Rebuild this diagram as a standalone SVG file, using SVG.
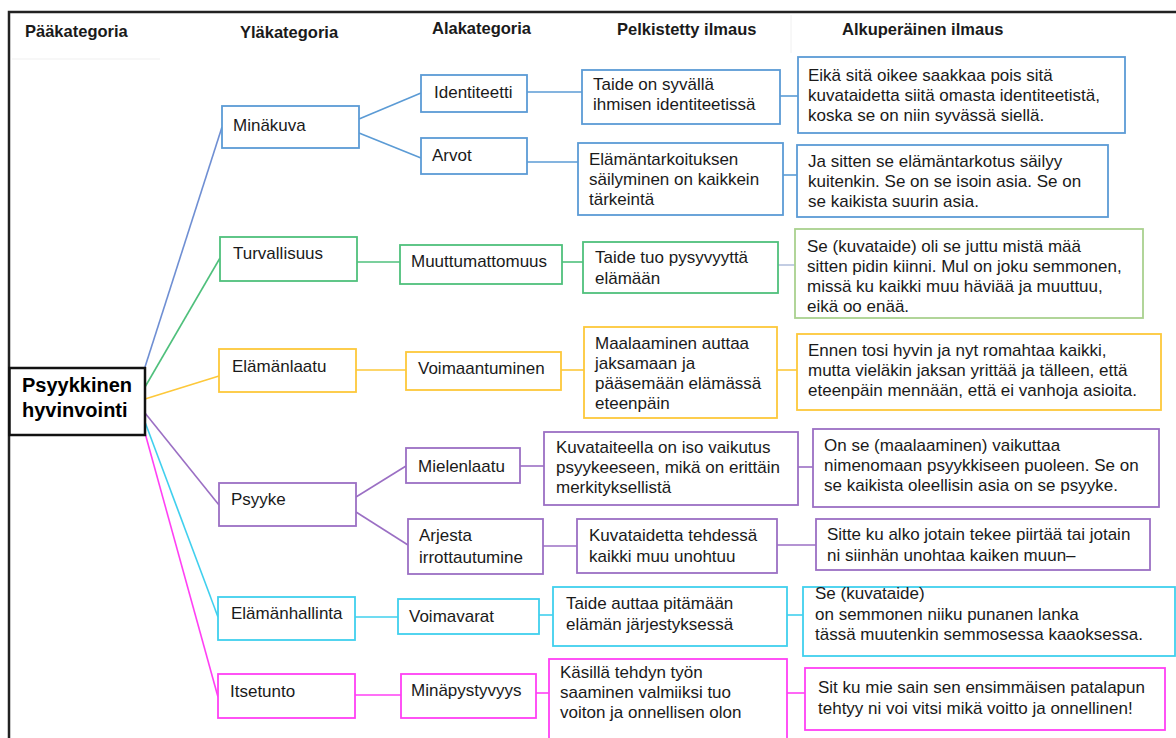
<svg xmlns="http://www.w3.org/2000/svg" width="1176" height="738" viewBox="0 0 1176 738">
  <style>
    text { font-family: "Liberation Sans", Arial, sans-serif; font-size: 17px; fill: #1a1a1a; }
    .head { font-weight: bold; font-size: 16.5px; }
    .main { font-weight: bold; font-size: 20px; fill: #000; }
    rect { fill: #fff; stroke-width: 1.8; }
    .c path { fill: none; stroke-width: 1.6; }
    .blue { stroke: #5b9bd5; }
    .green { stroke: #4fc07c; }
    .yellow { stroke: #fdc83a; }
    .purple { stroke: #9b6fc4; }
    .cyan { stroke: #40d0ee; }
    .magenta { stroke: #ff40f4; }
  </style>

  <!-- frame and column headings -->
  <rect x="9" y="12" width="1180" height="740" style="fill:none;stroke:#222;stroke-width:2.5"/>
  <path d="M12 59 H160" stroke="#efefef" stroke-width="1"/>
  <path d="M791 15 V53" stroke="#f0f0f0" stroke-width="1"/>
  <text class="head" x="25" y="37">Pääkategoria</text>
  <text class="head" x="240" y="38">Yläkategoria</text>
  <text class="head" x="432" y="34">Alakategoria</text>
  <text class="head" x="617" y="35">Pelkistetty ilmaus</text>
  <text class="head" x="842" y="35">Alkuperäinen ilmaus</text>

  <!-- connectors -->
  <g id="connectors" class="c">
    <path class="blue" style="stroke:#6f8fd3" d="M145 367 L222 127"/>
    <path class="blue" d="M359 119 L421 93"/>
    <path class="blue" d="M359 133 L421 158"/>
    <path class="blue" d="M527 92 H582"/>
    <path class="blue" d="M780 96 H798"/>
    <path class="blue" d="M527 162 H578"/>
    <path class="blue" d="M783 175 H797"/>

    <path class="green" d="M145 387 L220 258"/>
    <path class="green" d="M357 262 H400"/>
    <path class="green" d="M562 262 H583"/>
    <path style="stroke:#b4c0dc" d="M778 265 H795"/>

    <path class="yellow" d="M145 399 L219 376"/>
    <path class="yellow" d="M356 370 H406"/>
    <path class="yellow" d="M561 370 H584"/>
    <path class="yellow" d="M777 370 H797"/>

    <path class="purple" d="M145 413 L219 505"/>
    <path class="purple" d="M356 497 L406 466"/>
    <path class="purple" d="M356 512 L408 545"/>
    <path class="purple" d="M520 466 H544"/>
    <path class="purple" d="M798 467 H813"/>
    <path class="purple" d="M543 546 H577"/>
    <path class="purple" d="M777 545 H816"/>

    <path class="cyan" d="M145 422 L218 617"/>
    <path class="cyan" d="M355 617 H398"/>
    <path class="cyan" d="M539 615 H553"/>
    <path class="cyan" d="M787 615 H803"/>

    <path class="magenta" d="M145 433 L218 697"/>
    <path class="magenta" d="M355 695 H401"/>
    <path class="magenta" d="M536 693 H549"/>
    <path class="magenta" d="M787 693 H805"/>
  </g>

  <!-- root -->
  <g id="psyykkinen-hyvinvointi">
    <rect x="9.5" y="368" width="135.5" height="67" style="stroke:#111;stroke-width:2.5"/>
    <text class="main" x="22" y="392">Psyykkinen</text>
    <text class="main" x="22" y="417">hyvinvointi</text>
  </g>

  <!-- Minäkuva branch -->
  <g id="minakuva"><rect class="blue" x="222" y="106" width="137" height="42"/><text x="233" y="131">Minäkuva</text></g>
  <g id="identiteetti"><rect class="blue" x="421" y="75" width="106" height="37"/><text x="434" y="98">Identiteetti</text></g>
  <g id="arvot"><rect class="blue" x="421" y="138" width="106" height="36"/><text x="432" y="161">Arvot</text></g>
  <g id="p-identiteetti"><rect class="blue" x="582" y="70" width="198" height="54"/>
    <text x="593" y="90">Taide on syvällä</text><text x="593" y="110">ihmisen identiteetissä</text></g>
  <g id="p-arvot"><rect class="blue" x="578" y="143" width="205" height="72"/>
    <text x="589" y="165">Elämäntarkoituksen</text><text x="589" y="185">säilyminen on kaikkein</text><text x="589" y="205">tärkeintä</text></g>
  <g id="a-identiteetti"><rect class="blue" x="798" y="57" width="327" height="76"/>
    <text x="808" y="81">Eikä sitä oikee saakkaa pois sitä</text><text x="808" y="101">kuvataidetta siitä omasta identiteetistä,</text><text x="808" y="121">koska se on niin syvässä siellä.</text></g>
  <g id="a-arvot"><rect class="blue" x="797" y="145" width="311" height="72"/>
    <text x="808" y="167">Ja sitten se elämäntarkotus säilyy</text><text x="808" y="187">kuitenkin. Se on se isoin asia. Se on</text><text x="808" y="207">se kaikista suurin asia.</text></g>

  <!-- Turvallisuus branch -->
  <g id="turvallisuus"><rect class="green" x="220" y="237" width="137" height="44"/><text x="233" y="259">Turvallisuus</text></g>
  <g id="muuttumattomuus"><rect class="green" x="400" y="245" width="162" height="39"/><text x="411" y="267">Muuttumattomuus</text></g>
  <g id="p-muuttumattomuus"><rect class="green" x="583" y="242" width="195" height="51"/>
    <text x="595" y="263">Taide tuo pysyvyyttä</text><text x="595" y="284">elämään</text></g>
  <g id="a-muuttumattomuus"><rect style="stroke:#a9d18e" x="795" y="229" width="348" height="89"/>
    <text x="807" y="252">Se (kuvataide) oli se juttu mistä mää</text><text x="807" y="272">sitten pidin kiinni. Mul on joku semmonen,</text><text x="807" y="292">missä ku kaikki muu häviää ja muuttuu,</text><text x="807" y="312">eikä oo enää.</text></g>

  <!-- Elämänlaatu branch -->
  <g id="elamanlaatu"><rect class="yellow" x="219" y="349" width="137" height="43"/><text x="232" y="372">Elämänlaatu</text></g>
  <g id="voimaantuminen"><rect class="yellow" x="406" y="352" width="155" height="38"/><text x="418" y="374">Voimaantuminen</text></g>
  <g id="p-voimaantuminen"><rect class="yellow" x="584" y="327" width="193" height="91"/>
    <text x="595" y="349">Maalaaminen auttaa</text><text x="595" y="369">jaksamaan ja</text><text x="595" y="389">pääsemään elämässä</text><text x="595" y="409">eteenpäin</text></g>
  <g id="a-voimaantuminen"><rect class="yellow" x="797" y="334" width="364" height="76"/>
    <text x="808" y="356">Ennen tosi hyvin ja nyt romahtaa kaikki,</text><text x="808" y="376">mutta vieläkin jaksan yrittää ja tälleen, että</text><text x="808" y="396">eteenpäin mennään, että ei vanhoja asioita.</text></g>

  <!-- Psyyke branch -->
  <g id="psyyke"><rect class="purple" x="219" y="483" width="137" height="43"/><text x="231" y="505">Psyyke</text></g>
  <g id="mielenlaatu"><rect class="purple" x="406" y="448" width="114" height="35"/><text x="418" y="472">Mielenlaatu</text></g>
  <g id="arjesta"><rect class="purple" x="408" y="519" width="135" height="55"/>
    <text x="419" y="541">Arjesta</text><text x="419" y="563">irrottautumine</text></g>
  <g id="p-mielenlaatu"><rect class="purple" x="544" y="432" width="254" height="73"/>
    <text x="556" y="453">Kuvataiteella on iso vaikutus</text><text x="556" y="473">psyykeeseen, mikä on erittäin</text><text x="556" y="493">merkityksellistä</text></g>
  <g id="a-mielenlaatu"><rect class="purple" x="813" y="429" width="346" height="78"/>
    <text x="824" y="451">On se (maalaaminen) vaikuttaa</text><text x="824" y="471">nimenomaan psyykkiseen puoleen. Se on</text><text x="824" y="491">se kaikista oleellisin asia on se psyyke.</text></g>
  <g id="p-arjesta"><rect class="purple" x="577" y="519" width="200" height="54"/>
    <text x="589" y="541">Kuvataidetta tehdessä</text><text x="589" y="562">kaikki muu unohtuu</text></g>
  <g id="a-arjesta"><rect class="purple" x="816" y="519" width="334" height="51"/>
    <text x="827" y="540">Sitte ku alko jotain tekee piirtää tai jotain</text><text x="827" y="561">ni siinhän unohtaa kaiken muun–</text></g>

  <!-- Elämänhallinta branch -->
  <g id="elamanhallinta"><rect class="cyan" x="218" y="597" width="137" height="43"/><text x="231" y="619">Elämänhallinta</text></g>
  <g id="voimavarat"><rect class="cyan" x="398" y="599" width="141" height="35"/><text x="409" y="622">Voimavarat</text></g>
  <g id="p-voimavarat"><rect class="cyan" x="553" y="587" width="234" height="59"/>
    <text x="566" y="609">Taide auttaa pitämään</text><text x="566" y="630">elämän järjestyksessä</text></g>
  <g id="a-voimavarat"><rect class="cyan" x="803" y="587" width="372" height="69"/>
    <text x="815" y="599">Se (kuvataide)</text><text x="815" y="620">on semmonen niiku punanen lanka</text><text x="815" y="640">tässä muutenkin semmosessa kaaoksessa.</text></g>

  <!-- Itsetunto branch -->
  <g id="itsetunto"><rect class="magenta" x="218" y="674" width="137" height="44"/><text x="230" y="697">Itsetunto</text></g>
  <g id="minapystyvyys"><rect class="magenta" x="401" y="674" width="135" height="44"/><text x="411" y="696">Minäpystyvyys</text></g>
  <g id="p-minapystyvyys"><rect class="magenta" x="549" y="659" width="238" height="90"/>
    <text x="560" y="678">Käsillä tehdyn työn</text><text x="560" y="698">saaminen valmiiksi tuo</text><text x="560" y="718">voiton ja onnellisen olon</text></g>
  <g id="a-minapystyvyys"><rect class="magenta" x="805" y="668" width="360" height="62"/>
    <text x="818" y="693">Sit ku mie sain sen ensimmäisen patalapun</text><text x="818" y="714">tehtyy ni voi vitsi mikä voitto ja onnellinen!</text></g>
</svg>
